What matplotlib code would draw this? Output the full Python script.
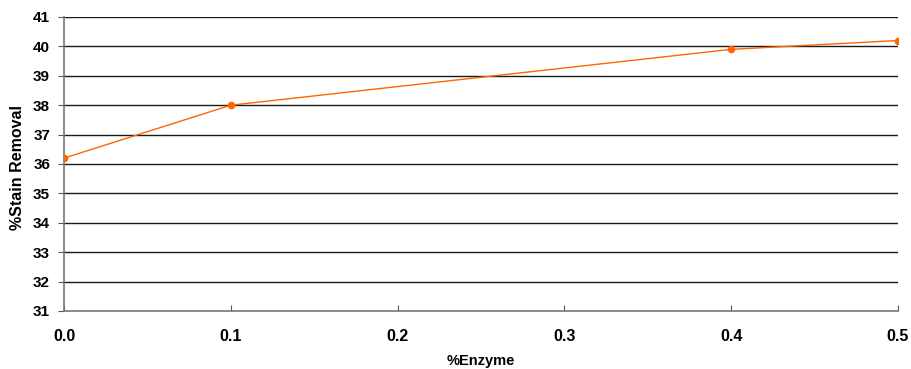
import matplotlib
matplotlib.use("Agg")
import matplotlib.pyplot as plt

enzyme = [0.0, 0.1, 0.4, 0.5]
stain_removal = [36.2, 38.0, 39.9, 40.2]
x_ticks = [0.0, 0.1, 0.2, 0.3, 0.4, 0.5]
x_tick_labels = ["0.0", "0.1", "0.2", "0.3", "0.4", "0.5"]
y_ticks = list(range(31, 42))

plt.rcParams['font.family'] = ['Liberation Sans', 'DejaVu Sans']

fig = plt.figure(figsize=(9.11, 3.69), dpi=100)
ax = fig.add_axes([64/911, 1-311/369, (898-64)/911, (311-17)/369])

for y in y_ticks[1:]:
    ax.axhline(y, color='#1a1a1a', lw=1.0, zorder=1)

ax.plot(enzyme, stain_removal, color='#FF6600', lw=1.0, marker='o', ms=4.5, zorder=3)

ax.set_xlim(0, 0.5)
ax.set_ylim(31, 41)
ax.set_xticks(x_ticks)
ax.set_xticklabels(x_tick_labels, fontsize=11.5, fontweight='bold')
ax.set_yticks(y_ticks)
ax.set_yticklabels([str(v) for v in y_ticks], fontsize=11, fontweight='bold')
ax.tick_params(axis='x', direction='in', length=4, pad=13, color='#555555')
ax.tick_params(axis='y', direction='out', length=4, pad=6, color='#555555')

for s in ['top', 'right']:
    ax.spines[s].set_visible(False)
for s in ['left', 'bottom']:
    ax.spines[s].set_color('#777777')
    ax.spines[s].set_linewidth(1.2)

fig.text(481/911, 1-361/369, '%Enzyme', fontsize=10.5, fontweight='bold',
         ha='center', va='center')
fig.text(18/911, 1-168/369, '%Stain Removal', fontsize=11.5, fontweight='bold',
         ha='center', va='center', rotation=90)

fig.savefig('out.png', dpi=100)
